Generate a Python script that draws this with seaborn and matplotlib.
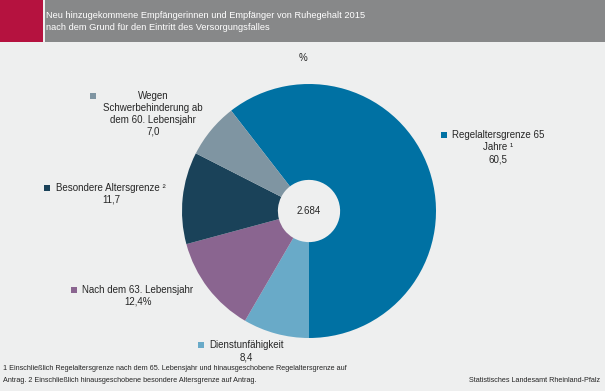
import matplotlib
matplotlib.use("Agg")
import matplotlib.pyplot as plt
from matplotlib.patches import Rectangle
import seaborn as sns

# Data (clockwise from the blue slice)
categories = ["Regelaltersgrenze 65 Jahre", "Dienstunfähigkeit", "Nach dem 63. Lebensjahr",
              "Besondere Altersgrenze", "Wegen Schwerbehinderung ab dem 60. Lebensjahr"]
shares = [60.5, 8.4, 12.4, 11.7, 7.0]
share_labels = ["60,5", "8,4", "12,4%", "11,7", "7,0"]
total_label = "2.684"
colors = ["#0071A3", "#69AAC8", "#8A6590", "#1A4259", "#7F95A2"]

sns.set_style("white")
plt.rcParams["font.family"] = ["Liberation Sans", "DejaVu Sans"]

W, H = 605, 391
bg = "#EEEFEF"
fig = plt.figure(figsize=(W / 100, H / 100), dpi=100, facecolor=bg)


def fx(x):
    return x / W


def fy(y):
    return 1 - y / H


# header bar
fig.add_artist(Rectangle((0, fy(42)), fx(43), 42 / H, transform=fig.transFigure,
                         color="#B5123F", lw=0))
fig.add_artist(Rectangle((fx(45), fy(42)), 1, 42 / H, transform=fig.transFigure,
                         color="#878889", lw=0))
fig.text(fx(46), fy(16), "Neu hinzugekommene Empfängerinnen und Empfänger von Ruhegehalt 2015",
         color="white", fontsize=6.7, va="center", ha="left")
fig.text(fx(46), fy(28), "nach dem Grund für den Eintritt des Versorgungsfalles",
         color="white", fontsize=6.7, va="center", ha="left")
fig.text(fx(303), fy(58), "%", fontsize=7, ha="center", va="center")

# donut
ax = fig.add_axes([fx(182), fy(338), 254 / W, 254 / H])
ax.pie(shares, colors=colors, startangle=127.8, counterclock=False,
       wedgeprops=dict(width=0.755, linewidth=0))
ax.set_xlim(-1, 1)
ax.set_ylim(-1, 1)
ax.set_aspect("equal")
ax.text(0, 0, total_label, ha="center", va="center", fontsize=7)

# labels: (square x, square y, text lines, text centre x)
label_pos = [
    (444, 135, ["Regelaltersgrenze 65", "Jahre ¹"], 498),
    (201, 345, ["Dienstunfähigkeit"], 246),
    (74, 290, ["Nach dem 63. Lebensjahr"], 138),
    (47, 188, ["Besondere Altersgrenze ²"], 111),
    (93, 96, ["Wegen", "Schwerbehinderung ab", "dem 60. Lebensjahr"], 153),
]
for (sx, sy, lines, cx), val, col in zip(label_pos, share_labels, colors):
    fig.add_artist(Rectangle((fx(sx - 3), fy(sy + 3)), 6 / W, 6 / H,
                             transform=fig.transFigure, color=col, lw=0))
    y = sy
    for line in lines + [val]:
        fig.text(fx(cx), fy(y), line, fontsize=7, ha="center", va="center")
        y += 12

# footnotes
fig.text(fx(3), fy(368), "1 Einschließlich Regelaltersgrenze nach dem 65. Lebensjahr und hinausgeschobene "
         "Regelaltersgrenze auf", fontsize=5.2, ha="left", va="center")
fig.text(fx(3), fy(380), "Antrag. 2 Einschließlich hinausgeschobene besondere Altersgrenze auf Antrag.",
         fontsize=5.2, ha="left", va="center")
fig.text(fx(600), fy(380), "Statistisches Landesamt Rheinland-Pfalz", fontsize=5.2,
         ha="right", va="center")

fig.savefig("out.png", dpi=100, facecolor=bg)
